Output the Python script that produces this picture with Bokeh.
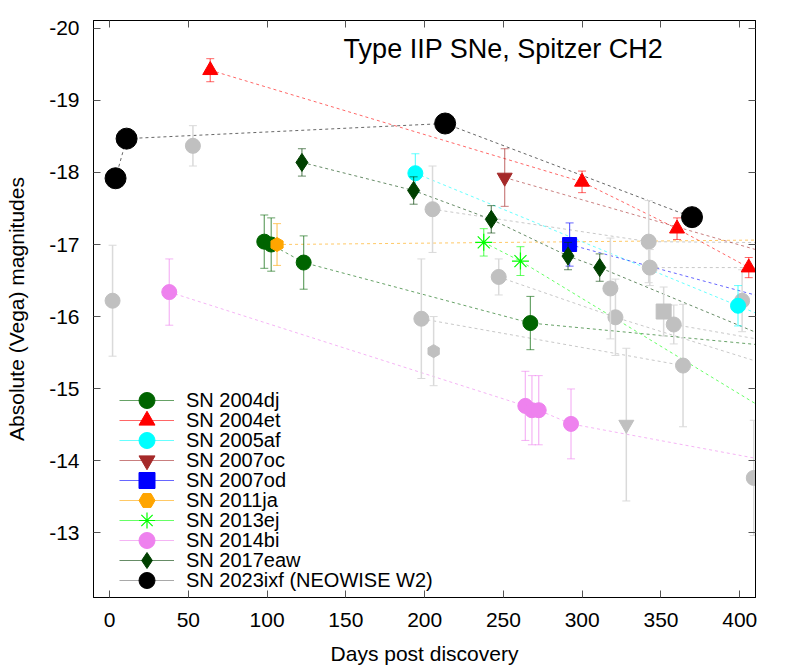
from bokeh.plotting import figure
from bokeh.models import (Range1d, FixedTicker, LinearAxis, Label, Legend,
                          LegendItem, ColumnDataSource)
from bokeh.embed import file_html
from bokeh.resources import INLINE

FONT = "Liberation Sans"

# ---------------- axis ticks ----------------
x_ticks = [0, 50, 100, 150, 200, 250, 300, 350, 400]
x_tick_labels = ["0", "50", "100", "150", "200", "250", "300", "350", "400"]
y_ticks = [-20, -19, -18, -17, -16, -15, -14, -13]
y_tick_labels = ["-20", "-19", "-18", "-17", "-16", "-15", "-14", "-13"]

# ---------------- named SNe (days, mag, err) ----------------
sn2004dj_day = [98.2, 102.6, 123.2, 267.1, 450.0]
sn2004dj_mag = [-17.04, -17.00, -16.75, -15.91, -15.53]
sn2004dj_err = [0.37, 0.37, 0.37, 0.37, 0.0]

sn2004et_day = [63.9, 299.9, 360.2, 405.7, 450.0]
sn2004et_mag = [-19.42, -17.87, -17.22, -16.68, -16.15]
sn2004et_err = [0.16, 0.15, 0.15, 0.14, 0.0]

sn2005af_day = [194.1, 398.9, 450.0]
sn2005af_mag = [-17.99, -16.15, -15.69]
sn2005af_err = [0.27, 0.28, 0.0]

sn2007oc_day = [250.8, 450.0]
sn2007oc_mag = [-17.93, -16.68]
sn2007oc_err = [0.40, 0.0]

sn2007od_day = [292.0, 450.0]
sn2007od_mag = [-17.00, -16.06]
sn2007od_err = [0.30, 0.0]

sn2011ja_day = [106.3, 450.0]
sn2011ja_mag = [-17.00, -17.07]
sn2011ja_err = [0.29, 0.0]

sn2013ej_day = [237.5, 260.8, 450.0]
sn2013ej_mag = [-17.03, -16.77, -14.26]
sn2013ej_err = [0.19, 0.20, 0.0]

sn2014bi_day = [37.9, 263.9, 268.1, 272.4, 292.9, 450.0]
sn2014bi_mag = [-16.34, -14.76, -14.70, -14.70, -14.51, -13.87]
sn2014bi_err = [0.46, 0.48, 0.48, 0.48, 0.485, 0.0]

sn2017eaw_day = [122.1, 193.0, 242.3, 291.0, 311.1, 450.0]
sn2017eaw_mag = [-18.14, -17.75, -17.35, -16.84, -16.68, -15.42]
sn2017eaw_err = [0.19, 0.19, 0.19, 0.19, 0.19, 0.0]

sn2023ixf_day = [3.8, 10.8, 213.0, 369.7]
sn2023ixf_mag = [-17.92, -18.47, -18.68, -17.38]
sn2023ixf_err = [0.04, 0.04, 0.04, 0.04]

# ---------------- comparison SNe (grey) ----------------
grey_a_day = [1.9];   grey_a_mag = [-16.22]; grey_a_err = [0.77]
grey_b_day = [52.9];  grey_b_mag = [-18.37]; grey_b_err = [0.28]
grey_c_day = [205.0, 342.2, 450.0]; grey_c_mag = [-17.49, -17.04, -17.02]; grey_c_err = [0.60, 0.57, 0.0]
grey_d_day = [197.9, 364.0]; grey_d_mag = [-15.97, -15.32]; grey_d_err = [0.83, 0.85]
grey_e_day = [247.0, 321.1, 450.0]; grey_e_mag = [-16.55, -15.99, -15.11]; grey_e_err = [0.25, 0.53, 0.0]
grey_f_day = [317.9]; grey_f_mag = [-16.39]; grey_f_err = [0.70]
grey_g_day = [342.9, 450.0]; grey_g_mag = [-16.68, -16.68]; grey_g_err = [0.25, 0.0]
grey_h_day = [358.1, 450.0]; grey_h_mag = [-15.89, -15.54]; grey_h_err = [0.27, 0.0]
grey_i_day = [401.5]; grey_i_mag = [-16.22]; grey_i_err = [0.43]
grey_j_day = [408.9]; grey_j_mag = [-13.76]; grey_j_err = [0.80]
grey_sq_day = [351.7]; grey_sq_mag = [-16.07]; grey_sq_err = [0.34]
grey_tri_day = [328.0]; grey_tri_mag = [-14.50]; grey_tri_err = [1.06]
grey_pent_day = [205.7]; grey_pent_mag = [-15.52]; grey_pent_err = [0.48]

p = figure(frame_width=662, frame_height=577,
           min_border_left=93, min_border_top=20, min_border_right=20, min_border_bottom=40,
           x_range=Range1d(-10.2, 410.0), y_range=Range1d(-12.10, -20.11),
           output_backend="svg", toolbar_location=None)
p.grid.visible = False
p.outline_line_color = "black"
p.outline_line_width = 1
p.background_fill_color = "white"
p.border_fill_color = "white"


def style_axis(ax, ticks, labels, show_labels):
    ax.ticker = FixedTicker(ticks=ticks)
    ax.major_tick_in = 7
    ax.major_tick_out = 0
    ax.minor_tick_line_color = None
    ax.major_tick_line_color = "#555555"
    ax.axis_line_color = "black"
    if show_labels:
        ax.major_label_overrides = {t: l for t, l in zip(ticks, labels)}
        ax.major_label_text_font = FONT
        ax.major_label_text_color = "black"
        ax.major_label_text_font_size = "21px"
    else:
        ax.major_label_text_color = None
        ax.major_label_standoff = 0


style_axis(p.xaxis[0], x_ticks, x_tick_labels, True)
style_axis(p.yaxis[0], y_ticks, y_tick_labels, True)
p.xaxis.major_label_standoff = 15
p.yaxis.major_label_standoff = 14
p.xaxis.axis_label = "Days post discovery"
p.yaxis.axis_label = "Absolute (Vega) magnitudes"
for ax in (p.xaxis[0], p.yaxis[0]):
    ax.axis_label_text_font = FONT
    ax.axis_label_text_font_size = "21px"
    ax.axis_label_text_font_style = "normal"
    ax.axis_label_text_color = "black"
p.xaxis.axis_label_standoff = 12
p.yaxis.axis_label_standoff = 18

top_ax = LinearAxis()
style_axis(top_ax, x_ticks, x_tick_labels, False)
p.add_layout(top_ax, "above")
right_ax = LinearAxis()
style_axis(right_ax, y_ticks, y_tick_labels, False)
p.add_layout(right_ax, "right")


def make_src(days, mags, errs):
    return ColumnDataSource(dict(
        x=days, y=mags,
        lo=[m - e for m, e in zip(mags, errs)],
        hi=[m + e for m, e in zip(mags, errs)]))


grey_series = [
    (grey_a_day, grey_a_mag, grey_a_err, "circle"),
    (grey_b_day, grey_b_mag, grey_b_err, "circle"),
    (grey_c_day, grey_c_mag, grey_c_err, "circle"),
    (grey_d_day, grey_d_mag, grey_d_err, "circle"),
    (grey_e_day, grey_e_mag, grey_e_err, "circle"),
    (grey_f_day, grey_f_mag, grey_f_err, "circle"),
    (grey_g_day, grey_g_mag, grey_g_err, "circle"),
    (grey_h_day, grey_h_mag, grey_h_err, "circle"),
    (grey_i_day, grey_i_mag, grey_i_err, "circle"),
    (grey_j_day, grey_j_mag, grey_j_err, "circle"),
    (grey_sq_day, grey_sq_mag, grey_sq_err, "square"),
    (grey_tri_day, grey_tri_mag, grey_tri_err, "inverted_triangle"),
    (grey_pent_day, grey_pent_mag, grey_pent_err, "pentagon"),
]

named_series = [
    ("SN 2004dj", sn2004dj_day, sn2004dj_mag, sn2004dj_err, "circle", "#006400", 15, "#006400"),
    ("SN 2004et", sn2004et_day, sn2004et_mag, sn2004et_err, "triangle", "#ff0000", 15, "#ff0000"),
    ("SN 2005af", sn2005af_day, sn2005af_mag, sn2005af_err, "circle", "#00ffff", 15, "#00ffff"),
    ("SN 2007oc", sn2007oc_day, sn2007oc_mag, sn2007oc_err, "inverted_triangle", "#a52a2a", 15, "#a52a2a"),
    ("SN 2007od", sn2007od_day, sn2007od_mag, sn2007od_err, "square", "#0000ff", 14, "#0000ff"),
    ("SN 2011ja", sn2011ja_day, sn2011ja_mag, sn2011ja_err, "pentagon", "#ffa500", 14, "#ffa500"),
    ("SN 2013ej", sn2013ej_day, sn2013ej_mag, sn2013ej_err, "asterisk", "#00ff00", 17, "#00ff00"),
    ("SN 2014bi", sn2014bi_day, sn2014bi_mag, sn2014bi_err, "circle", "#ee82ee", 15, "#ee82ee"),
    ("SN 2017eaw", sn2017eaw_day, sn2017eaw_mag, sn2017eaw_err, "diamond", "#004000", 18, "#004000"),
    ("SN 2023ixf (NEOWISE W2)", sn2023ixf_day, sn2023ixf_mag, sn2023ixf_err, "circle", "#000000", 21, "#707070"),
]


def draw_marker(src, marker, color, size):
    if marker == "pentagon":
        return p.scatter(x="x", y="y", marker="hex", size=size, angle=1.5708,
                         fill_color=color, line_color=color, source=src)
    if marker == "asterisk":
        return p.scatter(x="x", y="y", marker="asterisk", size=size, line_color=color,
                         line_width=1.2, source=src)
    return p.scatter(x="x", y="y", marker=marker, size=size, fill_color=color,
                     line_color=color, source=src)


srcs_grey = [make_src(d, m, e) for d, m, e, _ in grey_series]
srcs_named = [make_src(s[1], s[2], s[3]) for s in named_series]

# connecting dashed lines
for src in srcs_grey:
    p.line(x="x", y="y", source=src, line_color="#c8c8c8", line_width=1, line_dash="3 3")
for s, src in zip(named_series, srcs_named):
    p.line(x="x", y="y", source=src, line_color=s[5], line_width=1, line_dash="3 3", line_alpha=0.6)

# grey error bars and markers
for (d, m, e, mk), src in zip(grey_series, srcs_grey):
    p.segment(x0="x", y0="lo", x1="x", y1="hi", source=src, line_color="#dadada", line_width=1.5)
    p.scatter(x="x", y="lo", marker="dash", size=8, line_color="#dadada", source=src)
    p.scatter(x="x", y="hi", marker="dash", size=8, line_color="#dadada", source=src)
    draw_marker(src, mk, "#c0c0c0", 15 if mk != "pentagon" else 13)

# named series error bars, markers and legend (one legend box per entry, rows 20 px apart)
ROW0 = 197   # px from frame bottom to first legend row centre
for i, (s, src) in enumerate(zip(named_series, srcs_named)):
    label, _, _, _, mk, color, size, ecol = s
    seg = p.segment(x0="x", y0="lo", x1="x", y1="hi", source=src, line_color=ecol,
                    line_alpha=0.6, line_width=1.2)
    p.scatter(x="x", y="lo", marker="dash", size=8, line_color=ecol, line_alpha=0.6, source=src)
    p.scatter(x="x", y="hi", marker="dash", size=8, line_color=ecol, line_alpha=0.6, source=src)
    r = draw_marker(src, mk, color, size)
    lg = Legend(items=[LegendItem(label=label, renderers=[seg, r])],
                location=(26, ROW0 - 20 * i - 20), glyph_width=55, glyph_height=40,
                label_height=40, spacing=0, padding=0, margin=0, label_standoff=12,
                label_text_font=FONT, label_text_font_size="20px", label_text_color="black",
                border_line_alpha=0, background_fill_alpha=0)
    p.add_layout(lg)

p.add_layout(Label(x=250, y=-19.715, text="Type IIP SNe, Spitzer CH2", text_align="center",
                   text_baseline="alphabetic", text_font=FONT, text_font_size="27px",
                   text_color="black"))

open("out.html", "w").write(file_html(p, INLINE))
